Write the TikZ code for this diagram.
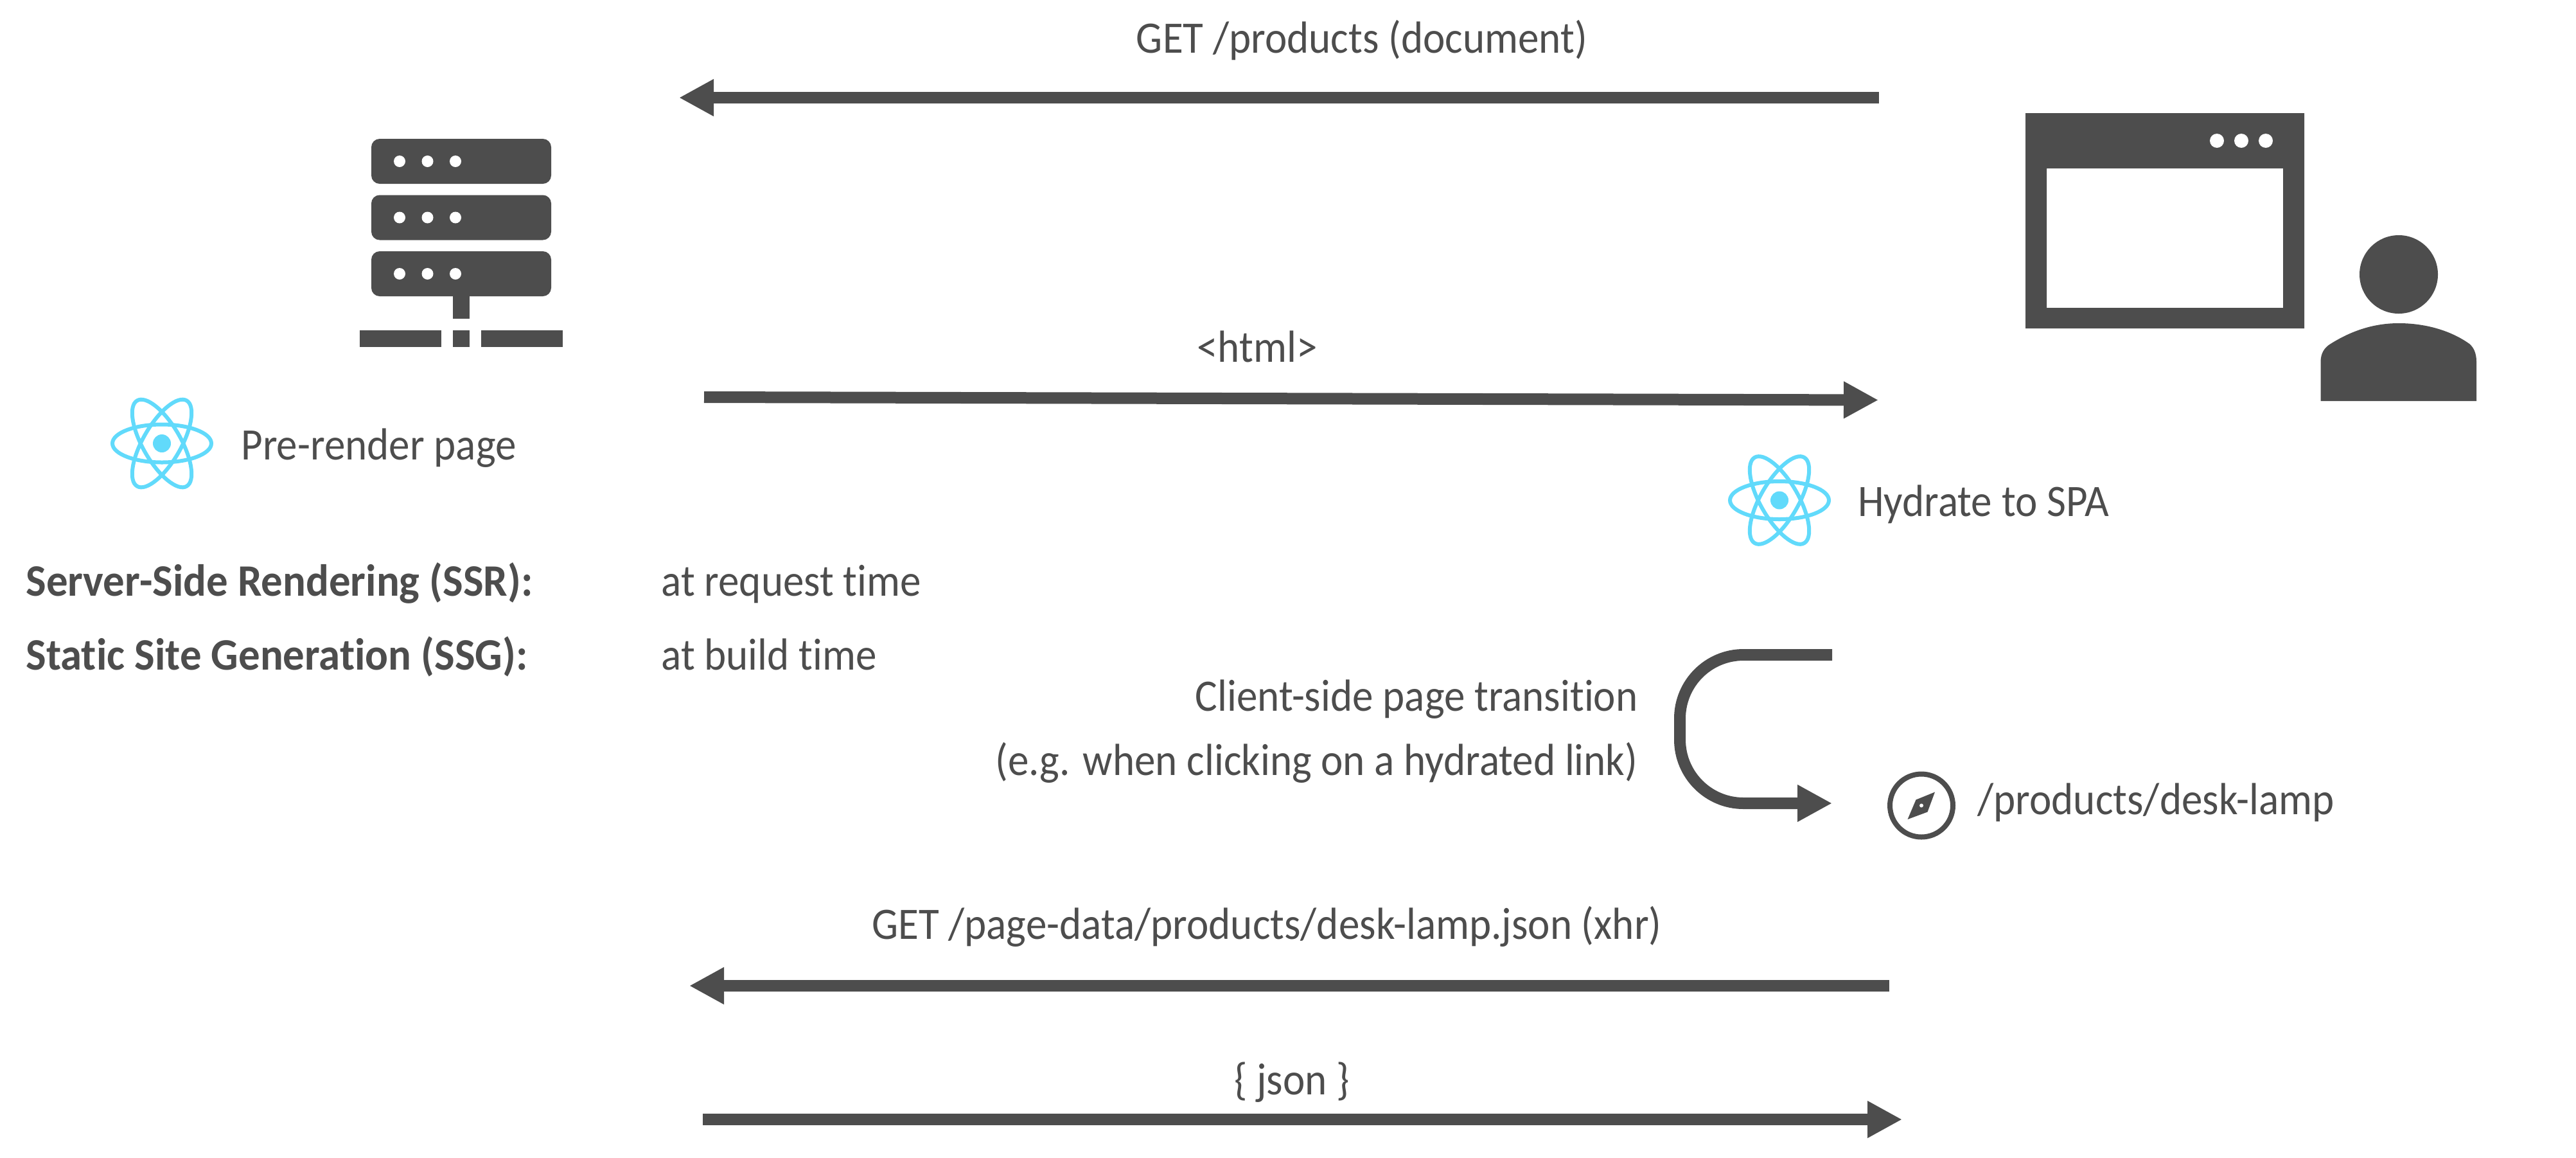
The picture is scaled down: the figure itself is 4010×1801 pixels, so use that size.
\documentclass[tikz,border=0pt]{standalone}
\usepackage{fontspec}
\setmainfont[Ligatures=NoCommon, FakeStretch=0.93, BoldFeatures={FakeStretch=0.955}]{Carlito}
\usetikzlibrary{arrows.meta}

\definecolor{inkgrey}{HTML}{4D4D4D}
\definecolor{reactblue}{HTML}{61DAFB}

\tikzset{
    lbl/.style={inkgrey, inner sep=0pt, anchor=base west, font=\fontsize{35}{42}\selectfont},
    lblc/.style={lbl, anchor=base},
    lble/.style={lbl, anchor=base east},
    lblb/.style={lbl, font=\fontsize{35}{42}\selectfont\bfseries},
    flow/.style={draw=inkgrey, line width=9pt, -{Triangle[length=27pt,width=27pt]}},
    atom/.pic={
        \foreach \a in {0,60,120}
            \draw[reactblue, line width=3pt, rotate=\a] (0,0) ellipse (77 and 29.5);
        \fill[reactblue] (0,0) circle (14);
    }
}

\begin{document}
\begin{tikzpicture}[x=0.5pt, y=-0.5pt]
        \useasboundingbox (0,0) rectangle (4010,1801);

        % Server
        \foreach \y in {216,303.5,391} {
            \fill[inkgrey, rounded corners=6.5pt] (578,\y) rectangle (858,\y+70);
            \foreach \x in {622,665.5,709}
                \fill[white] (\x,\y+35) circle (9);
        }
        \fill[inkgrey] (705,461) rectangle (731,496);
        \fill[inkgrey] (560,514) rectangle (687,540);
        \fill[inkgrey] (705,514) rectangle (731,540);
        \fill[inkgrey] (749,514) rectangle (876,540);

        % Browser
        \fill[inkgrey, even odd rule] (3153,176) rectangle (3587,511) (3186,262) rectangle (3554,479);
        \foreach \x in {3451,3489,3527}
            \fill[white] (\x,219) circle (11);

        % User
        \fill[inkgrey] (3734,427) circle (61);
        \fill[inkgrey] (3612.5,624) -- (3612.5,563)
            .. controls (3612.5,550) and (3618,541) .. (3628,535)
            .. controls (3663,513) and (3698,503) .. (3734,503)
            .. controls (3773,503) and (3813,513) .. (3844,535)
            .. controls (3851,541) and (3855,550) .. (3855,563)
            -- (3855,624) -- cycle;

        % React atoms
        \pic at (252,690) {atom};
        \pic at (2770,778.5) {atom};

        % Compass
        \draw[inkgrey, line width=4pt] (2991,1253.5) circle (49);
        \fill[inkgrey] (3012,1232.5) -- (2982.5,1244.5) -- (2969.5,1275) -- (3000.5,1263.5) -- cycle;
        \fill[white] (2991,1253.5) circle (3);

        % Labels
        \node[lblc] (getdoc) at (2120,82) {GET /products (document)};
        \node[lblc] (html) at (1957,563) {<html>};
        \node[lbl] (prerender) at (375,715) {Pre-render page};
        \node[lbl] (hydrate) at (2892,803) {Hydrate to SPA};
        \node[lblb] (ssr) at (40,927) {Server-Side Rendering (SSR):};
        \node[lblb] (ssg) at (40,1042) {Static Site Generation (SSG):};
        \node[lbl] (reqtime) at (1029,927) {at request time};
        \node[lbl] (buildtime) at (1029,1042) {at build time};
        \node[lble] (transition) at (2550,1106) {Client-side page transition};
        \node[lble] (clicking) at (2550,1206) {(e.g. when clicking on a hydrated link)};
        \node[lbl] (route) at (3078,1267) {/products/desk-lamp};
        \node[lblc] (getjson) at (1972,1461) {GET /page-data/products/desk-lamp.json (xhr)};
        \node[lblc] (json) at (2011,1703) {\{ json \}};

        % Arrow ends
        \coordinate (docstart) at (2925,152);
        \coordinate (docend) at (1057,152);
        \coordinate (htmlstart) at (1096,618);
        \coordinate (htmlend) at (2924,622.5);
        \coordinate (navstart) at (2852,1019);
        \coordinate (navtop) at (2615,1019);
        \coordinate (navbot) at (2615,1250);
        \coordinate (navend) at (2852,1250);
        \coordinate (xhrstart) at (2941,1534);
        \coordinate (xhrend) at (1073,1534);
        \coordinate (jsonstart) at (1094,1742);
        \coordinate (jsonend) at (2961,1742);

        % Arrows
        \draw[flow] (docstart) -- (docend);
        \draw[flow] (htmlstart) -- (htmlend);
        \draw[flow, rounded corners=49.5pt] (navstart) -- (navtop) -- (navbot) -- (navend);
        \draw[flow] (xhrstart) -- (xhrend);
        \draw[flow] (jsonstart) -- (jsonend);
    \end{tikzpicture}
\end{document}
